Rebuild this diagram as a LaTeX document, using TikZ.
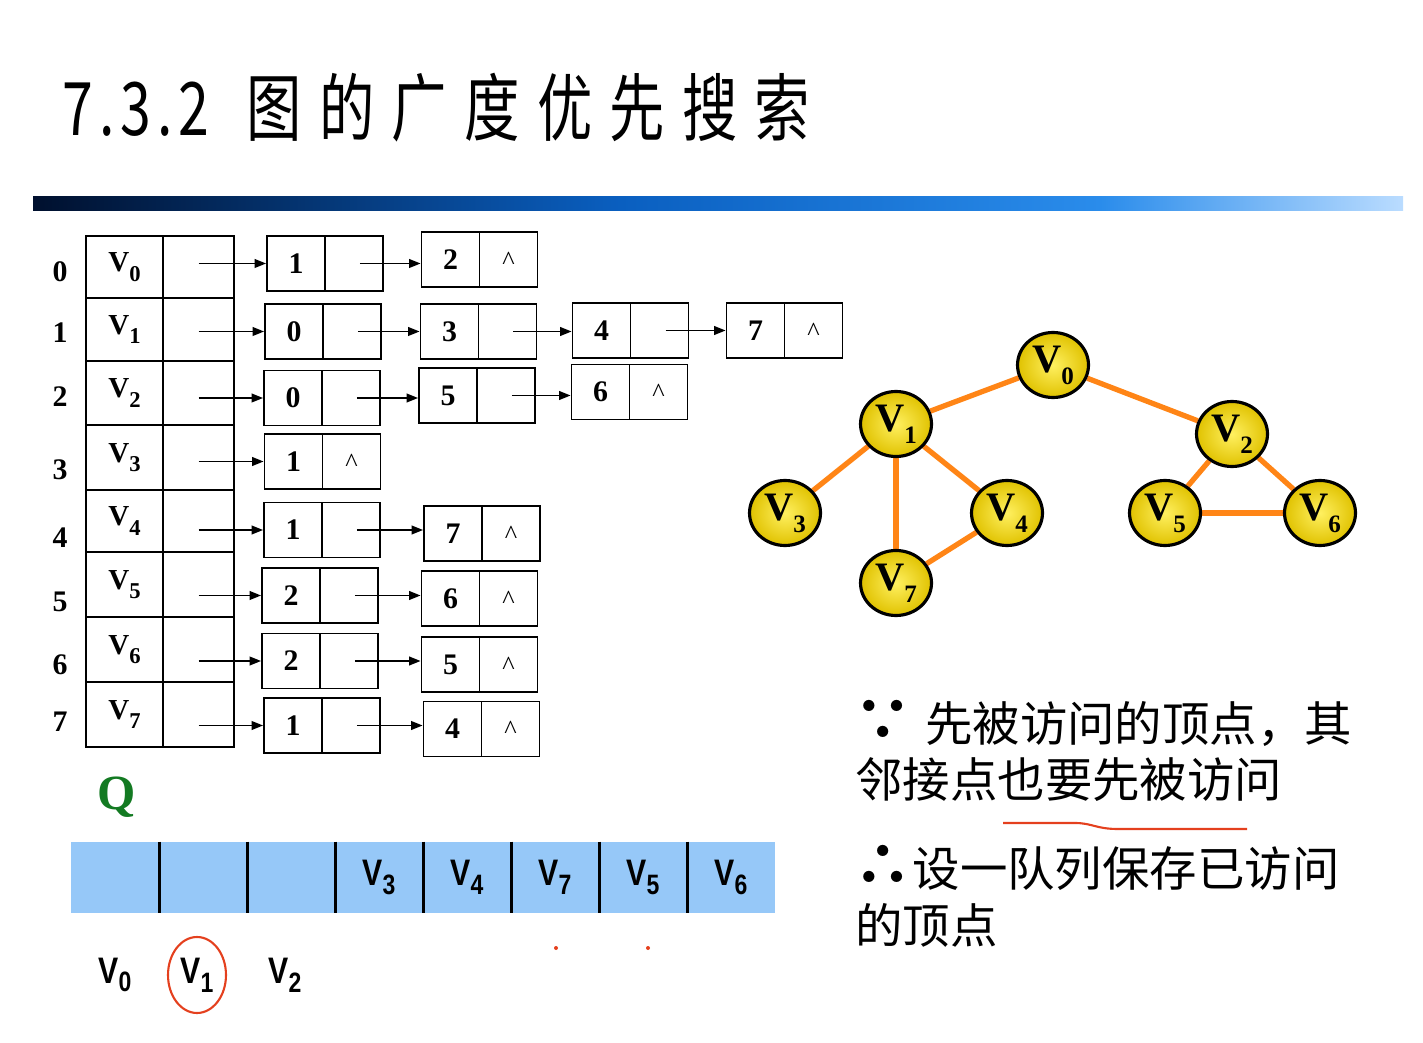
\documentclass[tikz,border=0pt]{standalone}
\usepackage{fontspec}
\setmainfont{Liberation Serif}
\newfontfamily\cjk{Noto Sans CJK SC}
\newfontfamily\qsans{Liberation Sans}
\usetikzlibrary{arrows.meta,backgrounds,calc,shapes.geometric}
\definecolor{gorange}{HTML}{FF8516}
\definecolor{gyellow}{HTML}{E0C200}
\definecolor{gyellowl}{HTML}{FFF060}
\definecolor{qblue}{HTML}{96C8F8}
\definecolor{qgreen}{HTML}{137A22}
\definecolor{penred}{HTML}{E4401E}
\definecolor{barA}{HTML}{00102E}
\definecolor{barB}{HTML}{0A5FC0}
\definecolor{barC}{HTML}{2A8CEB}
\definecolor{barD}{HTML}{BADCFF}
\newcommand\tabfont{\bfseries\fontsize{16.5}{16.5}\selectfont}
\newcommand\eltfont{\bfseries\fontsize{17}{17}\selectfont}
\newcommand\gfont{\bfseries\fontsize{23}{23}\selectfont}
\newcommand\qfont{\qsans\bfseries\fontsize{21}{21}\selectfont}
\newcommand\notefont{\cjk\fontsize{27}{27}\selectfont}
\newcommand\titlefont{\cjk\fontsize{42}{42}\selectfont}
\newcommand\myV[1]{V\raisebox{-0.33em}{\scalebox{0.78}{#1}}}
\newcommand\myG[1]{V\raisebox{-0.3em}{\scalebox{0.62}{#1}}}
\newcommand\myQ[1]{\scalebox{0.82}[1]{V\raisebox{-0.24em}{\scalebox{0.76}{#1}}}}
\newcommand\dotsym[1]{{\cjk\bfseries\scalebox{1.25}{#1}}}
\newcommand\lnode[5]{\node[elem] (#1) at (#2,#3) {\makebox[1.16cm]{#4}\makebox[1.16cm]{\normalfont\fontsize{15}{15}\selectfont #5}};}
\newcommand\larr[2]{\draw[arr] ([xshift=0.7cm]#1.center) -- (#2.west |- #1.center);}
\begin{document}
\begin{tikzpicture}[x=0.02cm,y=-0.02cm,
  cellL/.style={draw, line width=1.1pt, minimum width=1.54cm, inner sep=0, font=\tabfont},
  cellR/.style={draw, line width=1.1pt, minimum width=1.42cm, inner sep=0},
  elem/.style={draw, line width=1.1pt, minimum width=2.32cm, minimum height=1.1cm, inner sep=0, font=\eltfont,
    path picture={\draw[line width=1.1pt] (path picture bounding box.north) -- (path picture bounding box.south);}},
  idx/.style={font=\eltfont},
  arr/.style={line width=0.85pt, -{Triangle[length=6.5pt,width=5pt]}},
  gnode/.style={ellipse, draw=black, line width=1.8pt, minimum width=1.42cm, minimum height=1.3cm, inner sep=0, inner color=gyellowl, outer color=gyellow, font=\gfont},
  gedge/.style={gorange, line width=3pt},
  qcell/.style={fill=qblue, minimum width=1.76cm, minimum height=1.42cm, inner sep=0, font=\qfont},
  qdiv/.style={line width=1.4pt},
  note/.style={anchor=west, inner sep=0, font=\notefont},
  plain/.style={font=\qfont}
]
\useasboundingbox (0,0) rectangle (1423,1043);

% title
\node[anchor=west, inner sep=0] (title) at (62,108) {\titlefont\scalebox{0.75}[1]{7\hspace{0.16cm}.\hspace{0.16cm}3\hspace{0.16cm}.\hspace{0.16cm}2\hspace{1.0cm}图\hspace{0.46cm}的\hspace{0.46cm}广\hspace{0.46cm}度\hspace{0.46cm}优\hspace{0.46cm}先\hspace{0.46cm}搜\hspace{0.46cm}索}};
% gradient bar
\shade[left color=barA, right color=barB] (33,197) rectangle (621,211);
\shade[left color=barB, right color=barC] (620,197) rectangle (1101,211);
\shade[left color=barC, right color=barD] (1100,197) rectangle (1403,211);

% vertex table
\foreach \i/\t/\b/\iy in {0/236/298/272,1/298/361/333,2/361/425/397,3/425/490/470,4/490/552/538,5/552/617/602,6/617/682/665,7/682/747/722}{
  \node[cellL, minimum height={(\b-\t)*0.02cm}] (v\i) at (124.5,{(\t+\b)/2}) {\raisebox{0.08em}{\myV{\i}}};
  \node[cellR, minimum height={(\b-\t)*0.02cm}] (p\i) at (198.5,{(\t+\b)/2}) {};
  \node[idx] (n\i) at (60,\iy) {\i};
}

% list elements
\lnode{e00}{325}{263.5}{1}{}
\lnode{e01}{479.5}{259.5}{2}{\textasciicircum}
\lnode{e10}{323}{331.5}{0}{}
\lnode{e11}{478.5}{331.5}{3}{}
\lnode{e12}{630.5}{330.5}{4}{}
\lnode{e13}{784.5}{330.5}{7}{\textasciicircum}
\lnode{e20}{322}{398}{0}{}
\lnode{e21}{477}{395.5}{5}{}
\lnode{e22}{629.5}{392}{6}{\textasciicircum}
\lnode{e30}{322.5}{461.5}{1}{\textasciicircum}
\lnode{e40}{322}{530}{1}{}
\lnode{e41}{482}{533.5}{7}{\textasciicircum}
\lnode{e50}{320}{595.5}{2}{}
\lnode{e51}{479.5}{598.5}{6}{\textasciicircum}
\lnode{e60}{320}{661}{2}{}
\lnode{e61}{479.5}{664.5}{5}{\textasciicircum}
\lnode{e70}{322}{725.5}{1}{}
\lnode{e71}{481.5}{729}{4}{\textasciicircum}

\foreach \i in {0,...,7}{
  \draw[arr] (p\i.center |- e\i0.west) -- (e\i0.west);
}
\larr{e00}{e01}
\larr{e10}{e11}
\larr{e11}{e12}
\larr{e12}{e13}
\larr{e20}{e21}
\larr{e21}{e22}
\larr{e40}{e41}
\larr{e50}{e51}
\larr{e60}{e61}
\larr{e70}{e71}

% graph
\node[gnode] (g0) at (1053,365) {\myG{0}};
\node[gnode] (g1) at (896,424) {\myG{1}};
\node[gnode] (g2) at (1232,434) {\myG{2}};
\node[gnode] (g3) at (785,513) {\myG{3}};
\node[gnode] (g4) at (1007,513) {\myG{4}};
\node[gnode] (g5) at (1165,513) {\myG{5}};
\node[gnode] (g6) at (1320,513) {\myG{6}};
\node[gnode] (g7) at (896,583) {\myG{7}};
\begin{scope}[on background layer]
  \draw[gedge] (g0) -- (g1);
  \draw[gedge] (g0) -- (g2);
  \draw[gedge] (g1) -- (g3);
  \draw[gedge] (g1) -- (g4);
  \draw[gedge] (g1) -- (g7);
  \draw[gedge] (g4) -- (g7);
  \draw[gedge] (g2) -- (g5);
  \draw[gedge] (g2) -- (g6);
  \draw[gedge] (g5) -- (g6);
\end{scope}

% notes
\node[note] (t1) at (853,723) {\dotsym{∵}\hspace{0.25cm}先被访问的顶点，其};
\node[note] (t2) at (855,780) {邻接点也要先被访问};
\node[note] (t3) at (853,868) {\dotsym{∴}设一队列保存已访问};
\node[note] (t4) at (855,925) {的顶点};
\draw[penred, line width=1.2pt] (1003,823) -- (1075,823) .. controls (1092,823) and (1096,829) .. (1118,829) -- (1247,829);

% queue
\node[font=\bfseries\fontsize{28}{28}\selectfont, text=qgreen] (qlabel) at (117,797) {Q};
\foreach \k/\lab in {0/,1/,2/,3/\myQ{3},4/\myQ{4},5/\myQ{7},6/\myQ{5},7/\myQ{6}}{
  \node[qcell] (qc\k) at ({115+88*\k},877.5) {\lab};
}
\foreach \k in {0,...,6}{
  \draw[qdiv] (qc\k.north east) -- (qc\k.south east);
}
\node[plain] (b0) at (115,975) {\myQ{0}};
\node[plain] (b1) at (197,975) {\myQ{1}};
\node[plain] (b2) at (285,975) {\myQ{2}};
\draw[penred, line width=1.2pt] (b1.center) ellipse [x radius=0.58cm, y radius=0.76cm];
\fill[penred] (556,948) circle [radius=0.04cm];
\fill[penred] (648,948) circle [radius=0.04cm];
\end{tikzpicture}
\end{document}
